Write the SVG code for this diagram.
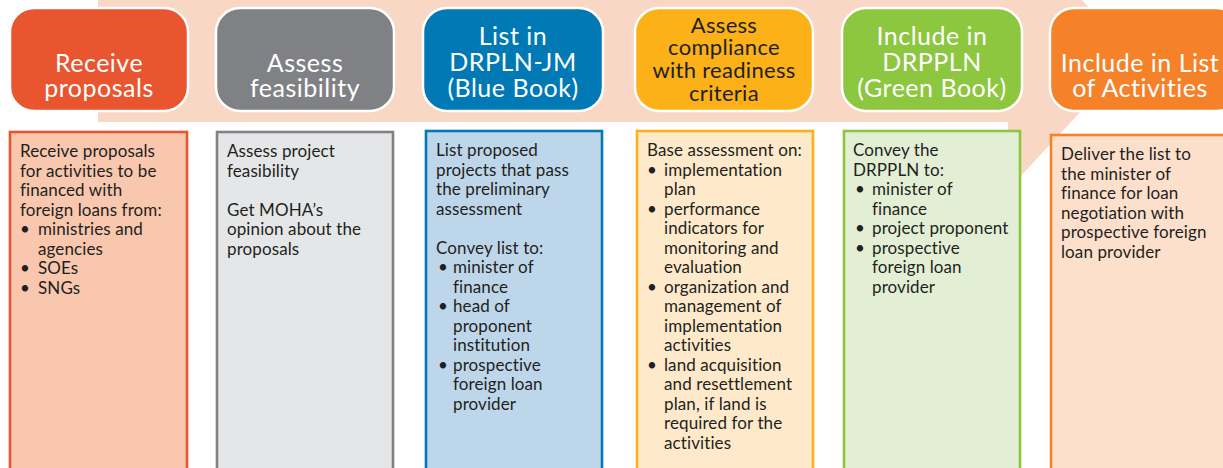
<svg xmlns="http://www.w3.org/2000/svg" width="1223" height="468" viewBox="0 0 1223 468">
  <style>
    .hdr { stroke: #ffffff; stroke-width: 2.5; }
    .ht { font-family: Lato, "Open Sans", sans-serif; font-size: 25px; letter-spacing: 0.5px; fill: #ffffff; text-anchor: middle; }
    .htd { font-family: Lato, "Open Sans", sans-serif; font-size: 22px; letter-spacing: 0.3px; fill: #231f20; text-anchor: middle; }
    .body { stroke-width: 2.6; }
    .bt { font-family: Lato, "Open Sans", sans-serif; font-size: 17px; letter-spacing: 0.1px; fill: #231f20; }
  </style>

  <!-- background process arrow -->
  <g id="process-arrow">
    <path d="M98,-10 H1008 V-80 L1133,55 L1008,190 V122 H98 Z" fill="#f9d7c5"/>
  </g>

  <g id="step1">
    <rect class="hdr" x="10" y="8" width="178" height="103" rx="24" fill="#e9552e"/>
    <text class="ht" x="99" y="72">Receive</text>
    <text class="ht" x="99" y="97">proposals</text>
    <rect class="body" x="10" y="132" width="177" height="350" fill="#f8c7ae" stroke="#e9552e"/>
    <text class="bt" x="20" y="157">Receive proposals</text>
    <text class="bt" x="20" y="176.5">for activities to be</text>
    <text class="bt" x="20" y="196">financed with</text>
    <text class="bt" x="20" y="215.5">foreign loans from:</text>
    <text class="bt" x="20" y="235">•</text><text class="bt" x="38" y="235">ministries and</text>
    <text class="bt" x="38" y="254.5">agencies</text>
    <text class="bt" x="20" y="274">•</text><text class="bt" x="38" y="274">SOEs</text>
    <text class="bt" x="20" y="293.5">•</text><text class="bt" x="38" y="293.5">SNGs</text>
  </g>

  <g id="step2">
    <rect class="hdr" x="216" y="8" width="178" height="103" rx="24" fill="#808184"/>
    <text class="ht" x="305" y="72">Assess</text>
    <text class="ht" x="305" y="97">feasibility</text>
    <rect class="body" x="217" y="132" width="176" height="350" fill="#e5e6e8" stroke="#808184"/>
    <text class="bt" x="227" y="157">Assess project</text>
    <text class="bt" x="227" y="176.5">feasibility</text>
    <text class="bt" x="227" y="215.5">Get MOHA’s</text>
    <text class="bt" x="227" y="235">opinion about the</text>
    <text class="bt" x="227" y="254.5">proposals</text>
  </g>

  <g id="step3">
    <rect class="hdr" x="423" y="8" width="180" height="103" rx="24" fill="#0079b5"/>
    <text class="ht" x="513" y="45">List in</text>
    <text class="ht" x="513" y="71">DRPLN-JM</text>
    <text class="ht" x="513" y="97">(Blue Book)</text>
    <rect class="body" x="426" y="131" width="176" height="350" fill="#bed6ea" stroke="#0079b5"/>
    <text class="bt" x="436" y="156">List proposed</text>
    <text class="bt" x="436" y="175.5">projects that pass</text>
    <text class="bt" x="436" y="195">the preliminary</text>
    <text class="bt" x="436" y="214.5">assessment</text>
    <text class="bt" x="436" y="253.5">Convey list to:</text>
    <text class="bt" x="438" y="273">•</text><text class="bt" x="453" y="273">minister of</text>
    <text class="bt" x="453" y="292.5">finance</text>
    <text class="bt" x="438" y="312">•</text><text class="bt" x="453" y="312">head of</text>
    <text class="bt" x="453" y="331.5">proponent</text>
    <text class="bt" x="453" y="351">institution</text>
    <text class="bt" x="438" y="370.5">•</text><text class="bt" x="453" y="370.5">prospective</text>
    <text class="bt" x="453" y="390">foreign loan</text>
    <text class="bt" x="453" y="409.5">provider</text>
  </g>

  <g id="step4">
    <rect class="hdr" x="635" y="8" width="178" height="103" rx="24" fill="#fbb117"/>
    <text class="htd" x="724" y="33">Assess</text>
    <text class="htd" x="724" y="55">compliance</text>
    <text class="htd" x="724" y="78">with readiness</text>
    <text class="htd" x="724" y="101">criteria</text>
    <rect class="body" x="637" y="131" width="176" height="350" fill="#feeacb" stroke="#fbb117"/>
    <text class="bt" x="647" y="156">Base assessment on:</text>
    <text class="bt" x="647" y="175.5">•</text><text class="bt" x="664" y="175.5">implementation</text>
    <text class="bt" x="664" y="195">plan</text>
    <text class="bt" x="647" y="214.5">•</text><text class="bt" x="664" y="214.5">performance</text>
    <text class="bt" x="664" y="234">indicators for</text>
    <text class="bt" x="664" y="253.5">monitoring and</text>
    <text class="bt" x="664" y="273">evaluation</text>
    <text class="bt" x="647" y="292.5">•</text><text class="bt" x="664" y="292.5">organization and</text>
    <text class="bt" x="664" y="312">management of</text>
    <text class="bt" x="664" y="331.5">implementation</text>
    <text class="bt" x="664" y="351">activities</text>
    <text class="bt" x="647" y="370.5">•</text><text class="bt" x="664" y="370.5">land acquisition</text>
    <text class="bt" x="664" y="390">and resettlement</text>
    <text class="bt" x="664" y="409.5">plan, if land is</text>
    <text class="bt" x="664" y="429">required for the</text>
    <text class="bt" x="664" y="448.5">activities</text>
  </g>

  <g id="step5">
    <rect class="hdr" x="842" y="8" width="180" height="103" rx="24" fill="#8dc63f"/>
    <text class="ht" x="932" y="45">Include in</text>
    <text class="ht" x="932" y="71">DRPPLN</text>
    <text class="ht" x="932" y="97">(Green Book)</text>
    <rect class="body" x="844" y="131" width="176" height="350" fill="#e2efd5" stroke="#8dc63f"/>
    <text class="bt" x="853" y="156">Convey the</text>
    <text class="bt" x="853" y="175.5">DRPPLN to:</text>
    <text class="bt" x="855" y="195">•</text><text class="bt" x="872" y="195">minister of</text>
    <text class="bt" x="872" y="214.5">finance</text>
    <text class="bt" x="855" y="234">•</text><text class="bt" x="872" y="234">project proponent</text>
    <text class="bt" x="855" y="253.5">•</text><text class="bt" x="872" y="253.5">prospective</text>
    <text class="bt" x="872" y="273">foreign loan</text>
    <text class="bt" x="872" y="292.5">provider</text>
  </g>

  <g id="step6">
    <rect class="hdr" x="1050" y="8" width="190" height="103" rx="24" fill="#f58129"/>
    <text class="ht" x="1140" y="72">Include in List</text>
    <text class="ht" x="1140" y="97">of Activities</text>
    <rect class="body" x="1051" y="135" width="190" height="350" fill="#fde0cc" stroke="#f58129"/>
    <text class="bt" x="1061" y="160">Deliver the list to</text>
    <text class="bt" x="1061" y="179.5">the minister of</text>
    <text class="bt" x="1061" y="199">finance for loan</text>
    <text class="bt" x="1061" y="218.5">negotiation with</text>
    <text class="bt" x="1061" y="238">prospective foreign</text>
    <text class="bt" x="1061" y="257.5">loan provider</text>
  </g>
</svg>
